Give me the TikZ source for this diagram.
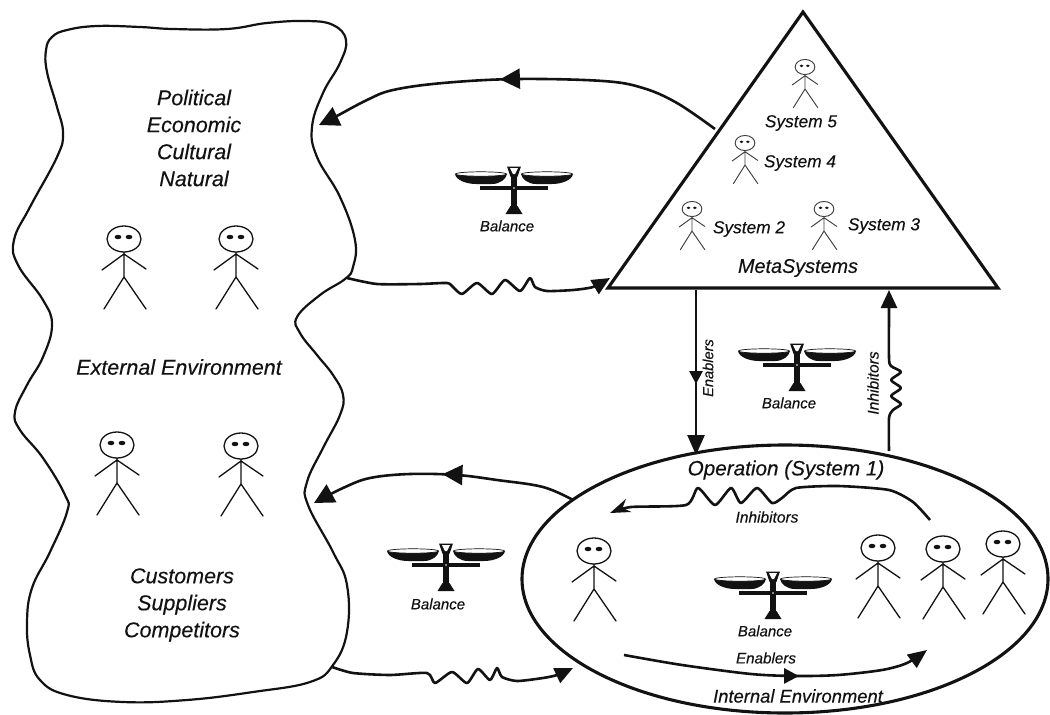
\documentclass[tikz,border=0pt]{standalone}
\usepackage{fontspec}
\setmainfont{Liberation Sans}[ItalicFeatures={FakeBold=0.25}]
\usetikzlibrary{arrows.meta,decorations.markings,shapes.geometric}
\definecolor{ink}{HTML}{121212}
\newcommand{\lblsize}[1]{\fontsize{#1}{27}\selectfont\itshape}
\tikzset{
  x=1pt,y=-1pt,
  outline/.style={draw=ink,line width=2.2pt,line join=round},
  frame/.style={draw=ink,line width=3.1pt,line join=miter},
  conn/.style={draw=ink,line width=2.6pt,line join=round},
  bigtip/.style={-{Triangle[length=20pt,width=20pt]}},
  midtip/.style 2 args={postaction={decorate,decoration={markings,
    mark=at position #1 with {\arrow{Triangle[length=#2pt,width=#2pt]}}}}},
  lbl/.style={inner sep=0pt,text=ink,align=center},
  stickline/.style={draw=ink,line width=1.3pt,line cap=round},
  stick/.pic={
    \draw[stickline]
      (0,0) ellipse [x radius=17,y radius=13]
      (0,13) -- (0,38) (-22,31) -- (0,15) -- (22,30) (-20,70) -- (0,38) -- (22,70);
    \fill[ink] (-6,-2) ellipse [x radius=3.4,y radius=2.2] (5,-2) ellipse [x radius=3.4,y radius=2.2];
  },
  scales/.pic={
    \fill[ink] (-59,-14) .. controls (-58,-8) and (-48,-4) .. (-38,-4) -- (-22,-4)
       .. controls (-14,-4) and (-8,-9) .. (-7,-14) -- cycle;
    \fill[ink] (59,-14) .. controls (58,-8) and (48,-4) .. (38,-4) -- (22,-4)
       .. controls (14,-4) and (8,-9) .. (7,-14) -- cycle;
    \draw[ink,line width=.7pt,fill=white] (-33,-14) ellipse [x radius=25.5,y radius=2.2];
    \draw[ink,line width=.7pt,fill=white] (33,-14) ellipse [x radius=25.5,y radius=2.2];
    \fill[ink] (-34,-2.2) rectangle (34,2.2);
    \fill[ink] (-3.2,-14) rectangle (3.2,19);
    \fill[ink] (-7,-21.5) -- (7,-21.5) -- (3.4,-11) -- (-3.4,-11) -- cycle;
    \fill[white] (-4,-19.8) -- (4,-19.8) -- (1,-14) -- (-1,-14) -- cycle;
    \fill[ink] (-3.5,18) -- (3.5,18) -- (8.5,26) -- (-8.5,26) -- cycle;
    \fill[white] (0,0) circle (.8);
  },
}
\begin{document}
\begin{tikzpicture}
\useasboundingbox (0,0) rectangle (1050,715);
\fill[white] (0,0) rectangle (1050,715);

% named anchors
\coordinate (blobA) at (319,125);
\coordinate (blobB) at (347,278);
\coordinate (blobC) at (314,503);
\coordinate (blobD) at (332,667);
\coordinate (triL) at (608,288);
\coordinate (triR) at (998,288);
\coordinate (triT) at (803,12);
\coordinate (triA) at (715,129);
\coordinate (triB) at (610,278);
\coordinate (triC) at (696,290);
\coordinate (triD) at (889,290);
\coordinate (opsA) at (573,500);
\coordinate (opsB) at (573,668);
\coordinate (opsC) at (696,455);
\coordinate (opsD) at (889,451);
\coordinate (inA) at (930,520);
\coordinate (inB) at (610,513);
\coordinate (inC) at (624,655);
\coordinate (inD) at (927,650);

% external environment outline
\draw[outline] plot[smooth cycle,tension=.7] coordinates {
 (46,50) (52,37) (67,30) (97,26) (140,27) (173,29) (227,29) (267,23) (307,21) (333,25) (346,40)
 (340,63) (323,93) (312,127) (317,157) (340,197) (355,240) (353,267) (345,279) (320,295)
 (297,317) (300,333) (317,355) (333,375) (343,395) (340,415) (323,448) (307,482) (308,505)
 (333,552) (347,585) (347,632) (333,665) (310,682) (253,692) (187,700) (123,702) (67,695)
 (40,680) (30,655) (27,622) (32,588) (50,552) (67,512) (65,495) (43,458) (20,430) (15,412)
 (27,385) (43,357) (52,325) (43,300) (18,265) (14,240) (30,207) (57,157) (63,133) (57,107) (47,72)};

% metasystems triangle and operation ellipse
\draw[frame] (triL) -- (triT) -- (triR) -- cycle;
\node[ellipse,draw=ink,line width=3.1pt,inner sep=0pt,minimum width=526pt,minimum height=268pt] (ops) at (785,579) {};

% people
\foreach \px/\py in {124/239,236/239,117/445,241/446,594/551,878/548,943/549,1003/544}
  \pic at (\px,\py) {stick};
\begin{scope}[stickline/.style={draw=ink!80,line width=.95pt,line cap=round}]
\foreach \px/\py in {805/67,745/143,692/209,824/209}
  \pic[scale=.58] at (\px,\py) {stick};
\end{scope}

% balances
\foreach \px/\py in {514/188,446/565,797/365,773/593}
  \pic at (\px,\py) {scales};

% connectors
\draw[conn,bigtip,midtip={.545}{20}] plot[smooth,tension=.6] coordinates {
 (triA) (677,103) (643,88) (603,81) (517,79) (443,83) (393,90) (367,100) (335,117) (blobA)};
\draw[conn,bigtip,midtip={.5}{20}] plot[smooth,tension=.6] coordinates {
 (opsA) (543,487) (497,480) (457,475) (410,474) (370,478) (343,488) (blobC)};
\draw[conn,-{Triangle[length=18pt,width=16pt]}] plot[smooth,tension=.4] coordinates {
 (blobB) (377,284) (420,284) (447,283) (453,287) (462,294) (477,283) (492,294) (505,280)
 (520,291) (530,278) (535,287) (547,291) (573,290) (593,287) (triB)};
\draw[conn,-{Triangle[length=18pt,width=16pt]}] plot[smooth,tension=.4] coordinates {
 (blobD) (353,673) (390,675) (427,673) (435,683) (452,672) (467,683) (478,669) (490,680)
 (497,668) (502,677) (517,681) (543,678) (557,675) (opsB)};
\draw[conn,-{Triangle[length=20pt,width=17pt]},midtip={.57}{13}] (triC) -- (opsC);
\draw[conn,-{Triangle[length=18pt,width=16pt]}] plot[smooth,tension=.4] coordinates {
 (opsD) (889,418) (893,410) (901,404) (891,396) (901,388) (891,380) (901,372) (891,366)
 (889,358) (889,310) (triD)};
\draw[conn,-{Stealth[length=20pt,width=14pt]}] plot[smooth,tension=.4] coordinates {
 (inA) (913,502) (889,490) (838,486) (796,488) (782,498) (772,503) (757,488) (741,503)
 (731,488) (715,505) (698,488) (686,505) (631,507) (inB)};
\draw[conn,-{Triangle[length=19pt,width=16pt]},midtip={.57}{15}] plot[smooth,tension=.5] coordinates {
 (inC) (682,665) (751,674) (796,676) (838,675) (882,670) (907,663) (inD)};

% labels
\node[lbl,font=\lblsize{21.5}] (nExtTop) at (194,138) {Political\\Economic\\Cultural\\Natural};
\node[lbl,font=\lblsize{21.5}] (nExt) at (179,367) {External Environment};
\node[lbl,font=\lblsize{21.5}] (nCust) at (182,605) {Customers\\Suppliers\\Competitors};
\node[lbl,font=\lblsize{17.3}] (nS5) at (801,123) {System 5};
\node[lbl,font=\lblsize{17.3}] (nS4) at (800,163) {System 4};
\node[lbl,font=\lblsize{17.3}] (nS2) at (749,229) {System 2};
\node[lbl,font=\lblsize{17.3}] (nS3) at (884,226) {System 3};
\node[lbl,font=\lblsize{19.8}] (nMeta) at (798,268) {MetaSystems};
\node[lbl,font=\lblsize{20.7}] (nOp) at (786,470) {Operation (System 1)};
\node[lbl,font=\lblsize{18.4}] (nInt) at (798,696) {Internal Environment};
\node[lbl,font=\lblsize{15}] (nB1) at (507,226) {Balance};
\node[lbl,font=\lblsize{15}] (nB2) at (438,604) {Balance};
\node[lbl,font=\lblsize{15}] (nB3) at (789,403) {Balance};
\node[lbl,font=\lblsize{15}] (nB4) at (765,631) {Balance};
\node[lbl,font=\lblsize{15.5}] (nInh) at (767,517) {Inhibitors};
\node[lbl,font=\lblsize{15.2}] (nEn) at (766,658) {Enablers};
\node[lbl,font=\lblsize{14.6},rotate=90] (nEnV) at (708,368) {Enablers};
\node[lbl,font=\lblsize{15.6},rotate=90] (nInhV) at (873,383) {Inhibitors};
\end{tikzpicture}
\end{document}
